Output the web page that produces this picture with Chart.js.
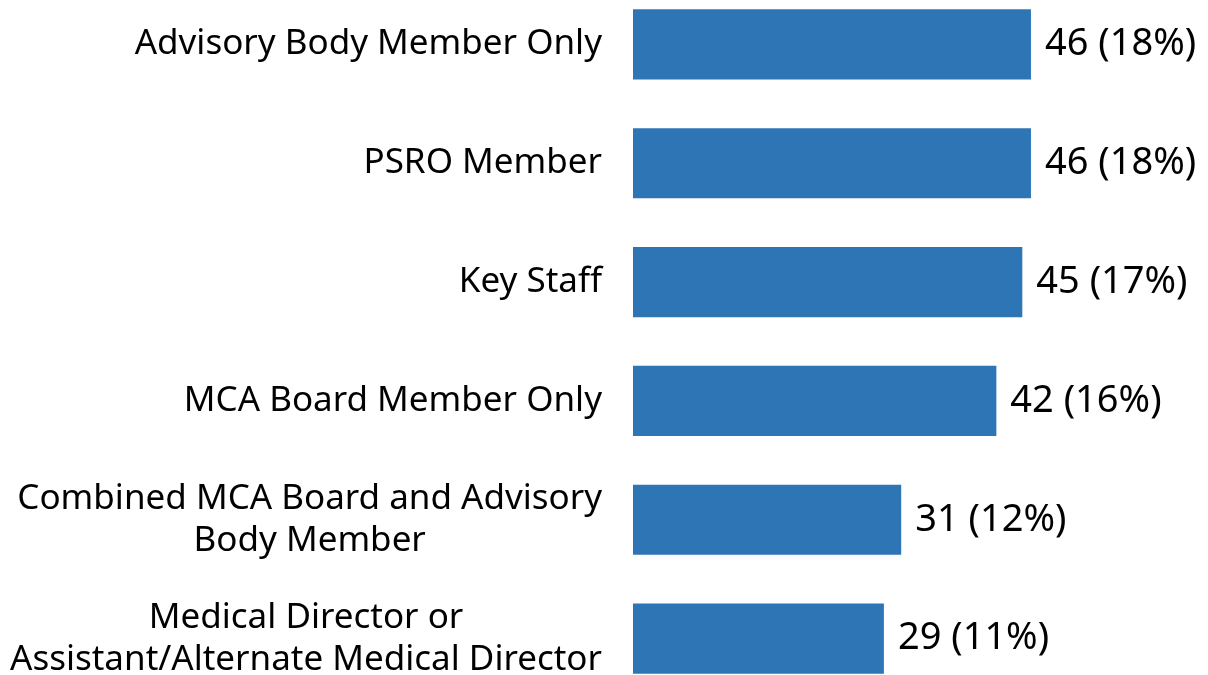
<!DOCTYPE html>
<html>
<head>
<meta charset="utf-8">
<script src="https://cdn.jsdelivr.net/npm/chart.js@4/dist/chart.umd.min.js"></script>
<style>
    html, body { margin: 0; padding: 0; background: #fff; overflow: hidden; }
    #wrap { position: absolute; left: 0; top: -15px; width: 1208px; height: 713px; }
</style>
</head>
<body>
<div id="wrap"><canvas id="chart"></canvas></div>
<script>
// chart data
const categories = [
    ['Advisory Body Member Only'],
    ['PSRO Member'],
    ['Key Staff'],
    ['MCA Board Member Only'],
    ['Combined MCA Board and Advisory', 'Body Member'],
    ['Medical Director or', 'Assistant/Alternate Medical Director']
];
const counts = [46, 46, 45, 42, 31, 29];
const percents = ['18%', '18%', '17%', '16%', '12%', '11%'];

const FONT = '"Noto Sans", "Open Sans", sans-serif';

// draws category labels (block right-aligned, lines centred) and value labels
const labelPlugin = {
    id: 'labels',
    afterDatasetsDraw(chart) {
        const ctx = chart.ctx;
        const yScale = chart.scales.y;
        const meta = chart.getDatasetMeta(0);
        ctx.save();
        ctx.fillStyle = '#000';
        ctx.textBaseline = 'middle';

        ctx.font = '35px ' + FONT;
        const rightEdge = chart.chartArea.left - 31;
        const lineH = 42;
        categories.forEach(function(lines, i) {
            const cy = yScale.getPixelForValue(i);
            const maxW = Math.max.apply(null, lines.map(l => ctx.measureText(l).width));
            const cx = rightEdge - maxW / 2;
            ctx.textAlign = 'center';
            lines.forEach(function(line, j) {
                const y = cy + (j - (lines.length - 1) / 2) * lineH;
                ctx.fillText(line, cx, y);
            });
        });

        ctx.font = '38px ' + FONT;
        ctx.textAlign = 'left';
        meta.data.forEach(function(bar, i) {
            ctx.fillText(counts[i] + ' (' + percents[i] + ')', bar.x + 14, bar.y);
        });
        ctx.restore();
    }
};

new Chart(document.getElementById('chart'), {
    type: 'bar',
    data: {
        labels: categories.map(l => l.join(' ')),
        datasets: [{
            data: counts,
            backgroundColor: '#2E75B6',
            borderWidth: 0,
            categoryPercentage: 1,
            barPercentage: 0.59
        }]
    },
    options: {
        indexAxis: 'y',
        responsive: true,
        maintainAspectRatio: false,
        animation: false,
        layout: { padding: { left: 633, right: 4, top: 0, bottom: 0 } },
        plugins: {
            legend: { display: false },
            tooltip: { enabled: false }
        },
        scales: {
            x: { display: false, min: 0, max: 66 },
            y: { display: false }
        }
    },
    plugins: [labelPlugin]
});
</script>
</body>
</html>
